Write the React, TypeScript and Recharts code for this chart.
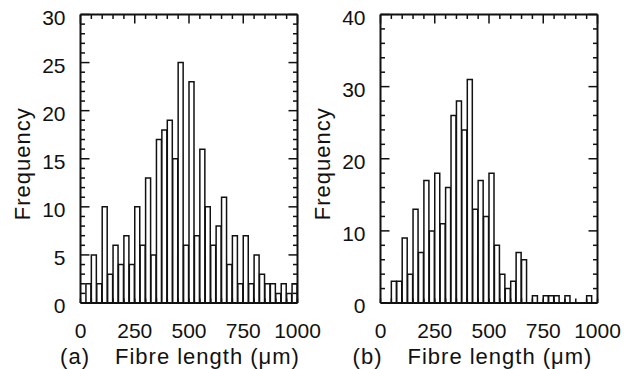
import { BarChart, Bar, Line, XAxis, YAxis } from "recharts";

// bin start (µm), 25 µm wide
const binStarts = [
  0, 25, 50, 75, 100, 125, 150, 175, 200, 225, 250, 275, 300, 325, 350, 375,
  400, 425, 450, 475, 500, 525, 550, 575, 600, 625, 650, 675, 700, 725, 750,
  775, 800, 825, 850, 875, 900, 925, 950, 975,
];
const BIN_WIDTH = 25;

const countsA = [
  0, 2, 5, 2, 10, 3, 6, 4, 7, 4, 10, 6, 13, 5, 17, 18, 19, 15, 25, 6, 23, 7,
  16, 10, 6, 8, 11, 4, 7, 2, 7, 2, 5, 3, 2, 2, 1, 2, 1, 2,
];

const countsB = [
  0, 0, 3, 3, 9, 4, 13, 7, 17, 10, 18, 11, 16, 26, 28, 24, 31, 13, 17, 12, 18,
  8, 4, 2, 3, 7, 6, 0, 1, 0, 1, 1, 1, 0, 1, 0, 0, 0, 1, 0,
];

const lengthTicks = [
  0, 50, 100, 150, 200, 250, 300, 350, 400, 450, 500, 550, 600, 650, 700, 750,
  800, 850, 900, 950, 1000,
];
const lengthLabels = [0, 250, 500, 750, 1000];

const freqTicksA = [
  0, 1, 2, 3, 4, 5, 6, 7, 8, 9, 10, 11, 12, 13, 14, 15, 16, 17, 18, 19, 20, 21,
  22, 23, 24, 25, 26, 27, 28, 29, 30,
];
const freqLabelsA = [0, 5, 10, 15, 20, 25, 30];

const freqTicksB = [
  0, 2, 4, 6, 8, 10, 12, 14, 16, 18, 20, 22, 24, 26, 28, 30, 32, 34, 36, 38, 40,
];
const freqLabelsB = [0, 10, 20, 30, 40];

const FONT = "'Liberation Sans', Arial, Helvetica, sans-serif";
const INK = "#111";

function makeXTick(labels: number[], side: "top" | "bottom") {
  return (props: any) => {
    const { x, y, payload } = props;
    const major = labels.includes(payload.value);
    const len = side === "top" && major ? 9 : 4.5;
    const dir = side === "top" ? 1 : -1;
    return (
      <g>
        <line x1={x} x2={x} y1={y} y2={y + dir * len} stroke={INK} strokeWidth={1.5} />
        {side === "bottom" && major && (
          <text x={x} y={y + 35} textAnchor="middle" fontSize={21} fontFamily={FONT} fill={INK}>
            {payload.value}
          </text>
        )}
      </g>
    );
  };
}

function makeYTick(labels: number[], side: "left" | "right") {
  return (props: any) => {
    const { x, y, payload } = props;
    const major = labels.includes(payload.value);
    const len = major ? 9 : 4.5;
    const dir = side === "left" ? 1 : -1;
    return (
      <g>
        <line x1={x} x2={x + dir * len} y1={y} y2={y} stroke={INK} strokeWidth={1.5} />
        {side === "left" && major && (
          <text x={x - 15} y={y + 10} textAnchor="end" fontSize={21} fontFamily={FONT} fill={INK}>
            {payload.value}
          </text>
        )}
      </g>
    );
  };
}

function FreqLabel(props: any) {
  const vb = props.viewBox ?? { x: 0, y: 0, width: 0, height: 0 };
  const cx = vb.x + vb.width - 50.5;
  const cy = vb.y + vb.height / 2 + 5;
  return (
    <text
      x={cx}
      y={cy}
      transform={`rotate(-90 ${cx} ${cy})`}
      textAnchor="middle"
      fontSize={22}
      letterSpacing={1}
      fontFamily={FONT}
      fill={INK}
    >
      Frequency
    </text>
  );
}

function Caption(props: any) {
  const vb = props.viewBox ?? { x: 0, y: 0, width: 0, height: 0 };
  const y = vb.y + 61;
  return (
    <g fontSize={22} letterSpacing={1} fontFamily={FONT} fill={INK}>
      <text x={vb.x + props.letterEnd} y={y} textAnchor="end">
        {props.letter}
      </text>
      <text x={vb.x + props.textStart} y={y}>
        Fibre length (μm)
      </text>
    </g>
  );
}

interface HistProps {
  counts: number[];
  freqTicks: number[];
  freqLabels: number[];
  letter: string;
  letterEnd: number;
  textStart: number;
  left: number;
}

function Histogram({ counts, freqTicks, freqLabels, letter, letterEnd, textStart, left }: HistProps) {
  const data = binStarts.map((b, i) => ({ bin: b, mid: b + BIN_WIDTH / 2, count: counts[i] }));
  const yMax = freqTicks[freqTicks.length - 1];
  return (
    <div style={{ position: "absolute", left, top: 0 }}>
      <BarChart
        width={330}
        height={369}
        data={data}
        margin={{ top: 13.5, right: 31.5, bottom: 65, left: 0 }}
        barCategoryGap={0}
        barGap={0}
      >
        <XAxis xAxisId="bins" dataKey="bin" type="category" height={0} hide />
        <XAxis
          xAxisId="len"
          dataKey="mid"
          type="number"
          domain={[0, 1000]}
          allowDataOverflow
          ticks={lengthTicks}
          interval={0}
          height={1}
          tickSize={0}
          tickMargin={0}
          tickLine={false}
          axisLine={{ stroke: INK, strokeWidth: 2 }}
          tick={makeXTick(lengthLabels, "bottom")}
          label={<Caption letter={letter} letterEnd={letterEnd} textStart={textStart} />}
        />
        <XAxis
          xAxisId="lenTop"
          dataKey="mid"
          orientation="top"
          type="number"
          domain={[0, 1000]}
          allowDataOverflow
          ticks={lengthTicks}
          interval={0}
          height={1}
          tickSize={0}
          tickMargin={0}
          tickLine={false}
          axisLine={{ stroke: INK, strokeWidth: 2 }}
          tick={makeXTick(lengthLabels, "top")}
        />
        <YAxis
          yAxisId="freq"
          type="number"
          domain={[0, yMax]}
          allowDataOverflow
          ticks={freqTicks}
          interval={0}
          width={80.5}
          tickSize={0}
          tickMargin={0}
          tickLine={false}
          axisLine={{ stroke: INK, strokeWidth: 2 }}
          tick={makeYTick(freqLabels, "left")}
          label={<FreqLabel />}
        />
        <YAxis
          yAxisId="freqR"
          orientation="right"
          type="number"
          domain={[0, yMax]}
          allowDataOverflow
          ticks={freqTicks}
          interval={0}
          width={1}
          tickSize={0}
          tickMargin={0}
          tickLine={false}
          axisLine={{ stroke: INK, strokeWidth: 2 }}
          tick={makeYTick(freqLabels, "right")}
        />
        <Bar
          xAxisId="bins"
          yAxisId="freq"
          dataKey="count"
          fill="#fff"
          stroke={INK}
          strokeWidth={1.5}
          isAnimationActive={false}
        />
        {/* invisible series so the frame axes get drawn */}
        <Line
          xAxisId="len"
          yAxisId="freq"
          dataKey="count"
          stroke="none"
          dot={false}
          activeDot={false}
          isAnimationActive={false}
        />
        <Line
          xAxisId="lenTop"
          yAxisId="freqR"
          dataKey="count"
          stroke="none"
          dot={false}
          activeDot={false}
          isAnimationActive={false}
        />
      </BarChart>
    </div>
  );
}

export default function App() {
  return (
    <div
      style={{
        position: "absolute",
        left: 0,
        top: 0,
        width: 637,
        height: 369,
        background: "#fff",
        overflow: "hidden",
      }}
    >
      <Histogram
        counts={countsA}
        freqTicks={freqTicksA}
        freqLabels={freqLabelsA}
        letter="(a)"
        letterEnd={9.5}
        textStart={34.5}
        left={0}
      />
      <Histogram
        counts={countsB}
        freqTicks={freqTicksB}
        freqLabels={freqLabelsB}
        letter="(b)"
        letterEnd={2}
        textStart={27}
        left={299.5}
      />
    </div>
  );
}
